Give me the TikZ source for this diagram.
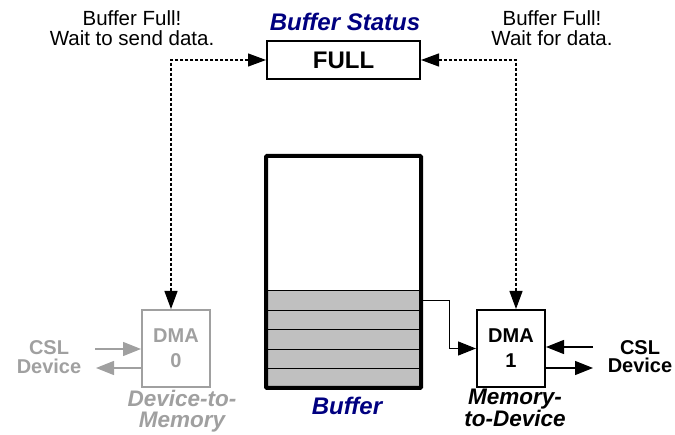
\documentclass[tikz,border=0pt]{standalone}
\usepackage{fontspec}
\setmainfont{Liberation Sans}
\usetikzlibrary{arrows.meta, positioning}
\definecolor{cTitle}{HTML}{000080}
\definecolor{cOff}{HTML}{A0A0A0}
\definecolor{cSlot}{HTML}{C0C0C0}
\tikzset{
    note/.style={align=center, inner sep=0pt, font=\fontsize{20.5}{19.5}\selectfont},
    title/.style={align=center, inner sep=0pt, text=cTitle,
                  font=\fontsize{24}{24}\selectfont\bfseries\itshape},
    mode/.style={align=center, inner sep=0pt,
                 font=\fontsize{22.5}{20.5}\selectfont\bfseries\itshape},
    dev/.style={align=center, inner sep=0pt, font=\fontsize{20}{18.5}\selectfont\bfseries},
    dma/.style={draw, line width=2pt, minimum width=68pt, minimum height=77pt,
                align=center, inner sep=0pt, font=\fontsize{20}{25}\selectfont\bfseries},
    flag/.style={draw, line width=2pt, minimum width=153pt, minimum height=38pt,
                 inner sep=0pt, font=\fontsize{24}{24}\selectfont\bfseries},
    slot/.style={draw, line width=1pt, fill=cSlot, minimum width=155pt,
                 minimum height=19.4pt, inner sep=0pt},
    sig/.style={-{Triangle[length=18pt, width=14pt]}, line width=1.2pt},
    hs/.style={{Triangle[length=18pt, width=13pt]}-{Triangle[length=18pt, width=13pt]},
               line width=1.2pt, dash pattern=on 3pt off 2pt},
}

\begin{document}
\begin{tikzpicture}[x=1pt, y=-1pt]
\useasboundingbox (0,0) rectangle (675,435);

\node[title] (status) at (345,22) {Buffer Status};
\node[flag] (full) at (343.5,60) {FULL};
\node[note] (waitL) at (132,28) {Buffer Full!\\Wait to send data.};
\node[note] (waitR) at (552,28) {Buffer Full!\\Wait for data.};

\foreach \i in {0,...,4}{%
    \node[slot] (slot\i) at (343.5,{300.7+\i*19.4}) {};}
\node[draw, line width=4pt, rounded corners=1pt, minimum width=155pt,
      minimum height=232pt, inner sep=0pt] (buf) at (343.5,272) {};
\node[title] (buflbl) at (347,405.5) {Buffer};

\node[dma, draw=cOff, text=cOff] (dma0) at (176,348.5) {DMA\\0};
\node[dma] (dma1) at (511,348.5) {DMA\\1};
\node[mode, text=cOff] (d2m) at (182,411) {Device-to-\\Memory};
\node[mode] (m2d) at (515,408) {Memory-\\to-Device};
\node[dev, text=cOff] (cslL) at (49,357) {CSL\\Device};
\node[dev] (cslR) at (640,356.5) {CSL\\Device};

\coordinate (inL) at (95,349);
\coordinate (outL) at (96,368);
\coordinate (inR) at (593,347);
\coordinate (outR) at (593,368);

\draw[sig, cOff] (inL) -- (inL -| dma0.west);
\draw[sig, cOff] (outL -| dma0.west) -- (outL);
\draw[sig] (inR) -- (inR -| dma1.east);
\draw[sig] (outR -| dma1.east) -- (outR);
\draw[sig] (slot0.east) -- ++(28,0) |- (dma1.west);

\draw[hs] (full.west) -| ([xshift=-5pt]dma0.north);
\draw[hs] (full.east) -| ([xshift=5pt]dma1.north);

\end{tikzpicture}
\end{document}
